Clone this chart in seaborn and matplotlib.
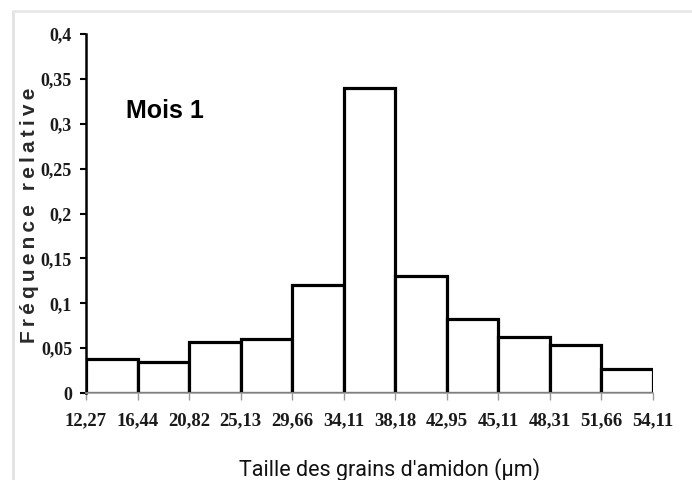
import matplotlib
matplotlib.use("Agg")
import matplotlib.pyplot as plt
from matplotlib.lines import Line2D
import seaborn as sns
import pandas as pd

# Size classes (bin edges, µm) and relative frequency of each class
bin_edges = ["12,27", "16,44", "20,82", "25,13", "29,66", "34,11",
             "38,18", "42,95", "45,11", "48,31", "51,66", "54,11"]
frequencies = [0.038, 0.035, 0.057, 0.060, 0.120, 0.340,
               0.130, 0.082, 0.062, 0.054, 0.027]
y_ticks = [0, 0.05, 0.1, 0.15, 0.2, 0.25, 0.3, 0.35, 0.4]
y_tick_labels = ["0", "0,05", "0,1", "0,15", "0,2", "0,25", "0,3", "0,35", "0,4"]

classes = [f"{a}-{b}" for a, b in zip(bin_edges[:-1], bin_edges[1:])]
df = pd.DataFrame({"classe": classes, "freq": frequencies})

sns.set_theme(style="white")
plt.rcParams["font.family"] = ["DejaVu Sans"]

fig = plt.figure(figsize=(6.92, 4.8), dpi=100)
W, H = 692, 480
ax = fig.add_axes([86 / W, (H - 393) / H, (653 - 86) / W, (393 - 34) / H])

sns.barplot(data=df, x="classe", y="freq", ax=ax, color="white",
            edgecolor="black", linewidth=2.3, width=1.0, saturation=1)

ax.set_xlim(-0.5, len(classes) - 0.5)
ax.set_ylim(0, 0.4)

# Ticks sit on the class boundaries
ax.set_xticks([i - 0.5 for i in range(len(bin_edges))])
ax.set_xticklabels(bin_edges, fontfamily="Liberation Serif",
                   fontweight="bold", fontsize=13.5, color="#1a1a1a")
ax.set_yticks(y_ticks)
ax.set_yticklabels(y_tick_labels, fontfamily="Liberation Serif",
                   fontweight="bold", fontsize=13, color="#1a1a1a")

ax.tick_params(axis="y", direction="out", length=4, width=1.5,
               color="black", pad=6, left=True)
ax.tick_params(axis="x", direction="out", length=5, width=1,
               color="#999999", pad=9, bottom=True)

for side in ("top", "right"):
    ax.spines[side].set_visible(False)
ax.spines["left"].set_color("black")
ax.spines["left"].set_linewidth(1.8)
ax.spines["bottom"].set_color("#999999")
ax.spines["bottom"].set_linewidth(1.2)

ax.set_xlabel("Taille des grains d'amidon (µm)", fontfamily=["Roboto", "DejaVu Sans"],
              fontsize=15.5, color="#111111")
ax.xaxis.set_label_coords((390 - 86) / (653 - 86), -(476 - 393) / (393 - 34))
ax.xaxis.label.set_va("baseline")

# Letter-spaced axis title
ylabel = "\u2009".join("Fréquence relative")
ax.set_ylabel(ylabel, fontweight="bold",
              fontfamily=["Liberation Sans", "DejaVu Sans"], fontsize=15,
              color="#2a2a2a")
ax.yaxis.set_label_coords(-(86 - 39) / (653 - 86), (393 - 215) / (393 - 34))

ax.text((126 - 86) / (653 - 86), (393 - 118) / (393 - 34), "Mois 1",
        transform=ax.transAxes, fontsize=18, va="baseline",
        fontweight="bold", fontfamily="Liberation Sans", color="black")

# Light frame around the figure
fig.add_artist(Line2D([13 / W, 13 / W], [0, 1 - 11 / H], transform=fig.transFigure,
                      color="#e2e2e2", linewidth=2))
fig.add_artist(Line2D([13 / W, 1], [1 - 11 / H, 1 - 11 / H], transform=fig.transFigure,
                      color="#e8e8e8", linewidth=2))

fig.savefig("out.png", dpi=100, facecolor="white")
